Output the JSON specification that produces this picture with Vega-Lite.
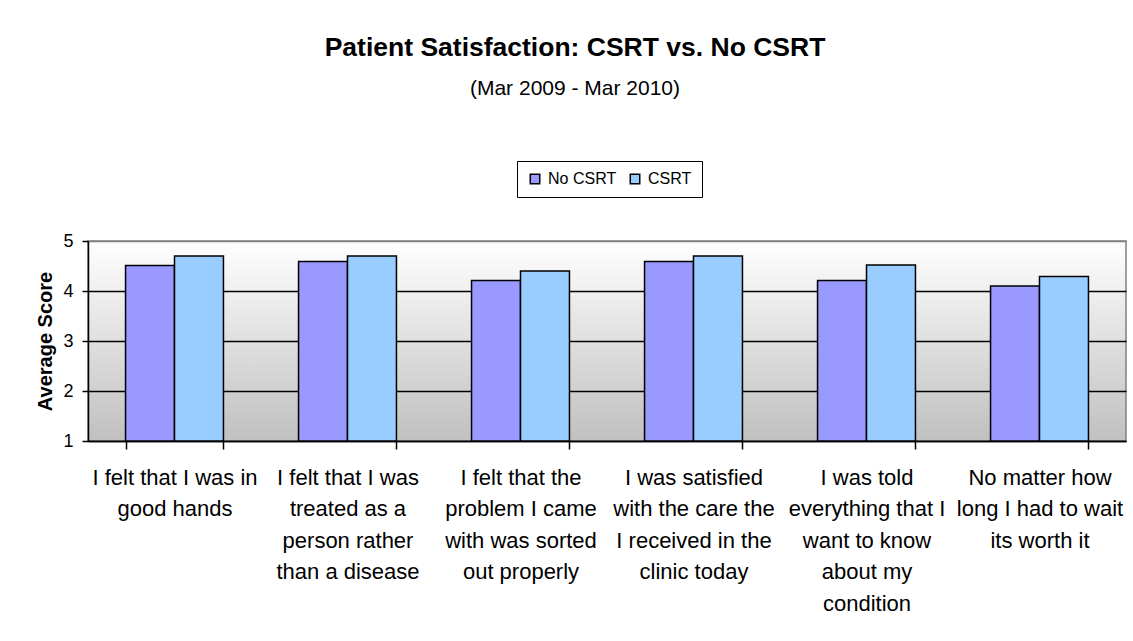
{
  "$schema": "https://vega.github.io/schema/vega-lite/v6.json",
  "width": 1038,
  "height": 200,
  "autosize": {"type": "none"},
  "padding": {"left": 88, "top": 241, "right": 7, "bottom": 200},
  "background": "white",
  "title": {
    "text": "Patient Satisfaction: CSRT vs. No CSRT",
    "subtitle": "(Mar 2009 - Mar 2010)",
    "anchor": "middle",
    "frame": "group",
    "dx": -32,
    "fontSize": 26.5,
    "fontWeight": "bold",
    "color": "black",
    "subtitleFontSize": 21,
    "subtitleColor": "black",
    "subtitlePadding": 16,
    "offset": 62
  },
  "data": {
    "values": [
      {"question": "I felt that I was in good hands", "group": "No CSRT", "score": 4.51},
      {"question": "I felt that I was in good hands", "group": "CSRT", "score": 4.70},
      {"question": "I felt that I was treated as a person rather than a disease", "group": "No CSRT", "score": 4.59},
      {"question": "I felt that I was treated as a person rather than a disease", "group": "CSRT", "score": 4.70},
      {"question": "I felt that the problem I came with was sorted out properly", "group": "No CSRT", "score": 4.21},
      {"question": "I felt that the problem I came with was sorted out properly", "group": "CSRT", "score": 4.40},
      {"question": "I was satisfied with the care the I received in the clinic today", "group": "No CSRT", "score": 4.59},
      {"question": "I was satisfied with the care the I received in the clinic today", "group": "CSRT", "score": 4.70},
      {"question": "I was told everything that I want to know about my condition", "group": "No CSRT", "score": 4.21},
      {"question": "I was told everything that I want to know about my condition", "group": "CSRT", "score": 4.52},
      {"question": "No matter how long I had to wait its worth it", "group": "No CSRT", "score": 4.10},
      {"question": "No matter how long I had to wait its worth it", "group": "CSRT", "score": 4.29}
    ]
  },
  "mark": {"type": "bar", "stroke": "black", "strokeWidth": 1.5},
  "encoding": {
    "x": {
      "field": "question",
      "type": "nominal",
      "sort": null,
      "scale": {"paddingInner": 0.434, "paddingOuter": 0.217},
      "axis": {
        "title": null,
        "labelAngle": 0,
        "labelFontSize": 22,
        "labelColor": "black",
        "labelLineHeight": 31.5,
        "labelPadding": 18,
        "labelLimit": 0,
        "ticks": true,
        "tickBand": "extent",
        "tickSize": 8,
        "tickColor": "black",
        "tickWidth": 1.5,
        "domainColor": "black",
        "domainWidth": 1.5,
        "labelExpr": "({'I felt that I was in good hands': ['I felt that I was in', 'good hands'], 'I felt that I was treated as a person rather than a disease': ['I felt that I was', 'treated as a', 'person rather', 'than a disease'], 'I felt that the problem I came with was sorted out properly': ['I felt that the', 'problem I came', 'with was sorted', 'out properly'], 'I was satisfied with the care the I received in the clinic today': ['I was satisfied', 'with the care the', 'I received in the', 'clinic today'], 'I was told everything that I want to know about my condition': ['I was told', 'everything that I', 'want to know', 'about my', 'condition'], 'No matter how long I had to wait its worth it': ['No matter how', 'long I had to wait', 'its worth it']})[datum.value]"
      }
    },
    "xOffset": {
      "field": "group",
      "type": "nominal",
      "sort": ["No CSRT", "CSRT"],
      "scale": {"paddingInner": 0, "paddingOuter": 0}
    },
    "y": {
      "field": "score",
      "type": "quantitative",
      "scale": {"domain": [1, 5], "nice": false, "zero": false},
      "axis": {
        "values": [1, 2, 3, 4, 5],
        "title": "Average Score",
        "titleFontSize": 20,
        "titleFontWeight": "bold",
        "titleColor": "black",
        "titlePadding": 7,
        "labelFontSize": 18,
        "labelColor": "black",
        "labelPadding": 9,
        "tickSize": 6,
        "tickColor": "black",
        "tickWidth": 1.5,
        "domainColor": "black",
        "domainWidth": 1.5,
        "grid": true,
        "gridColor": {"condition": {"test": "datum.value == 5", "value": "#808080"}, "value": "black"},
        "gridWidth": 1.5
      }
    },
    "y2": {"datum": 1},
    "color": {
      "field": "group",
      "type": "nominal",
      "scale": {"domain": ["No CSRT", "CSRT"], "range": ["#9999FF", "#99CCFF"]},
      "legend": {
        "title": null,
        "orient": "none",
        "legendX": 429,
        "legendY": -80,
        "direction": "horizontal",
        "padding": 10,
        "strokeColor": "black",
        "fillColor": "white",
        "symbolType": "square",
        "symbolSize": 90,
        "symbolStrokeColor": "black",
        "symbolStrokeWidth": 1.5,
        "labelFontSize": 16,
        "labelColor": "black",
        "labelOffset": 5,
        "columnPadding": 10
      }
    }
  },
  "config": {
    "font": "Liberation Sans",
    "view": {
      "fill": {
        "gradient": "linear",
        "x1": 0, "y1": 0, "x2": 0, "y2": 1,
        "stops": [
          {"offset": 0, "color": "#FFFFFF"},
          {"offset": 1, "color": "#C0C0C0"}
        ]
      },
      "stroke": "#808080",
      "strokeWidth": 1.5
    }
  }
}
